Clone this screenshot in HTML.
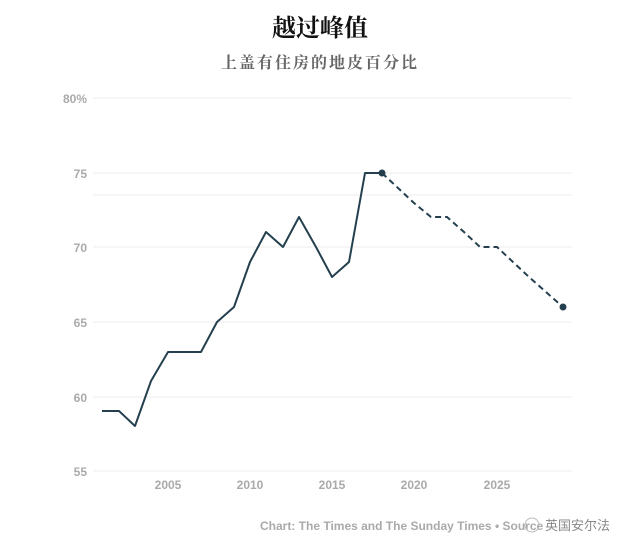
<!DOCTYPE html>
<html><head><meta charset="utf-8"><style>
body{margin:0;background:#fff;width:640px;height:552px;overflow:hidden}
</style></head><body>
<svg width="640" height="552" xmlns="http://www.w3.org/2000/svg">
<text x="320" y="36" text-anchor="middle" font-family="'Noto Serif CJK SC',serif" font-size="24" font-weight="bold" fill="#111">越过峰值</text>
<text x="320" y="68" text-anchor="middle" font-family="'Noto Serif CJK SC',serif" font-size="16" font-weight="bold" fill="#666" letter-spacing="2">上盖有住房的地皮百分比</text>
<g stroke="#ececec" stroke-width="1">
<line x1="93" x2="572" y1="98" y2="98"/>
<line x1="93" x2="572" y1="173" y2="173"/>
<line x1="93" x2="572" y1="195" y2="195"/>
<line x1="93" x2="572" y1="247" y2="247"/>
<line x1="93" x2="572" y1="322" y2="322"/>
<line x1="93" x2="572" y1="397" y2="397"/>
<line x1="93" x2="572" y1="471" y2="471"/>
</g>
<g font-family="'Liberation Sans',sans-serif" font-size="12" font-weight="bold" fill="#aaa" text-anchor="end">
<text x="87" y="103">80%</text>
<text x="87" y="178">75</text>
<text x="87" y="252">70</text>
<text x="87" y="327">65</text>
<text x="87" y="402">60</text>
<text x="87" y="476">55</text>
</g>
<g font-family="'Liberation Sans',sans-serif" font-size="12" font-weight="bold" fill="#aaa" text-anchor="middle">
<text x="168" y="489">2005</text>
<text x="250" y="489">2010</text>
<text x="332" y="489">2015</text>
<text x="414" y="489">2020</text>
<text x="497" y="489">2025</text>
</g>
<polyline fill="none" stroke="#24404f" stroke-width="2" stroke-linejoin="round"
points="102,411 119,411 135,426 151,381 168,352 184,352 201,352 217,322 234,307 250,262 266,232 283,247 299,217 316,247 332,277 349,262 365,173 382,173"/>
<polyline fill="none" stroke="#24404f" stroke-width="2" stroke-dasharray="6,4"
points="382,173 398,188 414,203 431,217 447,217 464,232 480,247 497,247 513,262 529,277 546,292 563,307"/>
<circle cx="382" cy="173" r="3.5" fill="#24404f"/>
<circle cx="563" cy="307" r="3.5" fill="#24404f"/>
<text x="260" y="530" font-family="'Liberation Sans',sans-serif" font-size="12" font-weight="bold" fill="#aaa">Chart: The Times and The Sunday Times • Source</text>
<circle cx="532" cy="525" r="7" fill="none" stroke="#bbb" stroke-width="1"/>
<text x="545" y="530" font-family="'Noto Sans CJK SC',sans-serif" font-size="13" fill="#888">英国安尔法</text>
</svg>
</body></html>
